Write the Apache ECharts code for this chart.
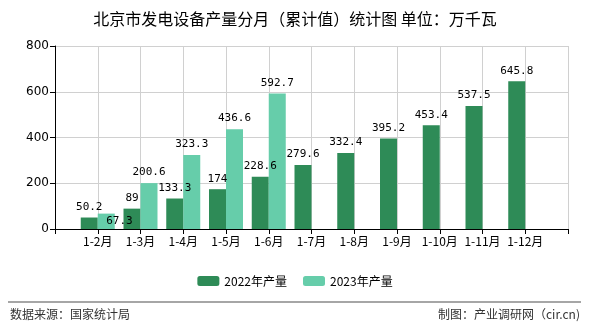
<!DOCTYPE html>
<html><head><meta charset="utf-8">
<script src="https://cdn.jsdelivr.net/npm/echarts@6/dist/echarts.min.js"></script>
<style>html,body{margin:0;padding:0;background:#fff}#c{width:590px;height:330px}</style>
</head><body><div id="c"></div>
<script>
var categories = ["", "1-2月", "1-3月", "1-4月", "1-5月", "1-6月", "1-7月", "1-8月", "1-9月", "1-10月", "1-11月", "1-12月", ""];
var series2022 = [null, 50.2, 89, 133.3, 174, 228.6, 279.6, 332.4, 395.2, 453.4, 537.5, 645.8, null];
var series2023 = [null, 67.3, 200.6, 323.3, 436.6, 592.7, null, null, null, null, null, null, null];
var yTicks = [0, 200, 400, 600, 800];
var titleText = "北京市发电设备产量分月（累计值）统计图 单位：万千瓦";
var sourceText = "数据来源：国家统计局";
var creditText = "制图：产业调研网（cir.cn)";

var chart = echarts.init(document.getElementById('c'));
var labelStyle = {show: true, position: 'top', color: '#000', fontSize: 11, fontFamily: 'DejaVu Sans Mono', distance: 5,
  formatter: function(p){ return p.value == null ? '' : String(p.value); }};
chart.setOption({
  animation: false,
  title: {text: titleText, left: 'center', top: 6, textStyle: {fontSize: 16, fontWeight: 'normal', color: '#000', fontFamily: 'Noto Sans CJK SC'}},
  grid: {left: 55, right: 22, top: 46, bottom: 101},
  legend: {top: 270, left: 'center', itemWidth: 22, itemHeight: 10, itemGap: 16, textStyle: {fontSize: 12, color: '#000', fontFamily: 'Noto Sans CJK SC'},
    data: ['2022年产量', '2023年产量']},
  xAxis: {type: 'category', data: categories, boundaryGap: false,
    axisLine: {lineStyle: {color: '#000'}}, axisTick: {show: true, alignWithLabel: true, lineStyle: {color: '#000'}},
    axisLabel: {color: '#000', fontSize: 12, fontFamily: 'Noto Sans CJK SC', interval: 0, margin: 6},
    splitLine: {show: true, lineStyle: {color: '#d0d0d0'}}},
  yAxis: {type: 'value', min: yTicks[0], max: yTicks[yTicks.length-1], interval: 200,
    axisLine: {show: true, lineStyle: {color: '#000'}}, axisTick: {show: true, lineStyle: {color: '#000'}},
    axisLabel: {color: '#000', fontSize: 12, fontFamily: 'DejaVu Sans', margin: 6},
    splitLine: {show: true, lineStyle: {color: '#d0d0d0'}}},
  series: [
    {name: '2022年产量', type: 'bar', data: series2022, barWidth: 17, barGap: '0%', itemStyle: {color: '#2E8B57'}, label: labelStyle},
    {name: '2023年产量', type: 'bar', data: series2023, barWidth: 17, barGap: '0%', itemStyle: {color: '#66CDAA'}, label: labelStyle,
     labelLayout: function(p){
       var i = p.dataIndex;
       if (series2023[i] == null || series2022[i] == null) return {};
       var a = chart.convertToPixel({gridIndex: 0}, [i, series2023[i]]);
       var b = chart.convertToPixel({gridIndex: 0}, [i, series2022[i]]);
       if (a && b && Math.abs(b[1] - a[1]) < p.labelRect.height) {
         return {y: p.labelRect.y + p.labelRect.height + 7};
       }
       return {};
     }}
  ],
  graphic: [
    {type: 'line', shape: {x1: 8, y1: 302, x2: 581, y2: 302}, style: {stroke: '#888', lineWidth: 1.5}},
    {type: 'text', left: 10, top: 308, style: {text: sourceText, fontSize: 12, fill: '#333', fontFamily: 'Noto Sans CJK SC'}},
    {type: 'text', right: 10, top: 308, style: {text: creditText, fontSize: 12, fill: '#333', fontFamily: 'Noto Sans CJK SC'}}
  ]
});
</script></body></html>
